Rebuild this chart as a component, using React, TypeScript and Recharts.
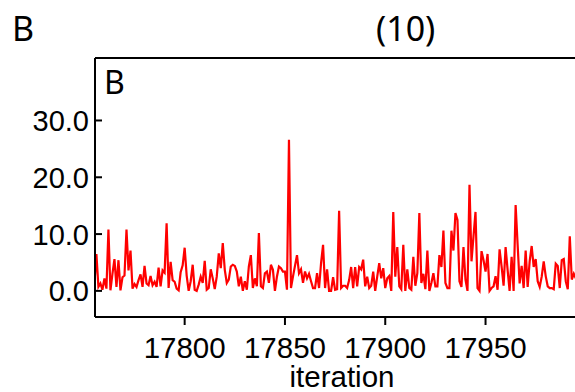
import React from "react";
import { LineChart, Line, XAxis, YAxis, ReferenceLine } from "recharts";

// first iteration shown at the left edge; one sample per iteration
const START_ITER = 17755;

const seg1 = [
  1.2, 6.5, 0.7, 1.3, 0.2, 2.2, 0.4, 10.8, 0.1, 3.0, 5.6, 0.7, 5.4, 0.1, 2.4, 2.7,
  10.8, 3.6, 7.1, 0.4, 1.2, 0.7, 1.9, 2.9, 0.7, 4.4, 1.3, 1.0, 2.6, 1.0, 1.6, 0.7,
  4.1, 0.8, 3.6, 3.2, 11.9, 0.5, 5.1, 1.9, 1.6, 0.4, 0.1, 3.3, 4.5, 7.6, 2.7, 0.0,
];
const seg2 = [
  1.7, 4.6, 0.2, 0.0, 1.1, 2.5, 1.4, 5.3, 0.2, 0.5, 3.8, 2.2, 0.3, 2.5, 6.6, 4.0,
  8.4, 3.7, 1.4, 2.0, 4.3, 4.6, 4.4, 3.4, 0.8, 2.5, 0.0, 1.7, 0.2, 4.3, 6.3, 0.5,
  2.2, 0.8, 10.2, 0.8, 0.5, 3.1, 3.4, 1.4, 4.6, 3.7, 0.0, 2.5, 4.3, 4.0, 3.4, 3.4,
];
const seg3 = [
  0.2, 26.6, 0.5, 2.5, 4.4, 6.3, 3.1, 3.8, 1.4, 3.4, 2.2, 3.0, 1.7, 0.5, 0.5, 3.1,
  0.5, 4.9, 8.1, 0.5, 3.8, 0.0, 0.0, 2.4, 0.2, 0.3, 14.1, 0.5, 0.9, 0.9, 0.5, 1.9,
  4.2, 0.5, 4.2, 0.8, 4.2, 3.8, 5.5, 0.8, 2.5, 0.5, 0.9, 3.4, 0.0, 2.5, 4.9, 2.2, 4.0,
];
const seg4 = [
  0.5, 2.2, 2.6, 0.0, 13.9, 2.5, 7.7, 0.8, 0.3, 8.1, 0.0, 3.8, 0.5, 0.2, 6.0, 0.9,
  3.1, 13.7, 1.4, 3.0, 0.3, 7.1, 0.0, 1.4, 3.1, 0.8, 0.8, 6.3, 4.2, 10.6, 1.4, 0.5,
  0.5, 10.6, 7.1, 13.7, 12.5, 1.7, 0.7, 7.7, 2.0, 0.0, 18.7, 5.2, 9.6, 13.9, 0.5,
];
const seg5 = [
  0.0, 7.0, 5.4, 3.4, 6.5, 0.0, 0.5, 0.8, 2.6, 0.2, 7.3, 4.3, 0.9, 7.7, 3.7, 0.0,
  6.0, 0.0, 15.1, 8.1, 1.3, 4.4, 0.5, 7.1, 0.7, 5.2, 7.9, 4.2, 5.6, 1.7, 0.7, 2.5,
  5.2, 2.6, 0.8, 0.5, 0.5, 0.3, 4.8, 4.4, 0.5, 5.4, 5.6, 1.7, 0.3, 9.6, 2.0, 3.0, 2.2,
];

const values = [...seg1, ...seg2, ...seg3, ...seg4, ...seg5];

const X_TICKS = [17800, 17850, 17900, 17950];
const Y_TICKS = [0, 10, 20, 30];
const X_DOMAIN = [17755.3, 17994.6];
const Y_DOMAIN = [-4.6, 41.0];

const data = values.map((v, i) => ({ iter: START_ITER + i, v }));

const TICK_FONT = "'Liberation Sans', Arial, sans-serif";
const TITLE_FONT = "'Noto Sans', 'Open Sans', sans-serif";

// y ticks point into the plot in the original
const YTick = (props: any) => {
  const { x, y, payload } = props;
  return (
    <g>
      <line x1={x + 6} x2={x + 13} y1={y} y2={y} stroke="#000" strokeWidth={2} />
      <text
        x={x}
        y={y}
        dy="0.36em"
        textAnchor="end"
        fontSize={29}
        fontFamily={TICK_FONT}
        fill="#000"
      >
        {Number(payload.value).toFixed(1)}
      </text>
    </g>
  );
};

export default function App() {
  return (
    <div style={{ position: "absolute", left: 0, top: 0, width: 575, height: 392, background: "#fff" }}>
      <LineChart
        width={575}
        height={392}
        data={data}
        margin={{ top: 58, right: 0, bottom: 0, left: 0 }}
      >
        <XAxis
          dataKey="iter"
          type="number"
          domain={X_DOMAIN}
          allowDataOverflow
          ticks={X_TICKS}
          height={75}
          tickSize={8}
          tickMargin={12}
          axisLine={{ stroke: "#000", strokeWidth: 2 }}
          tickLine={{ stroke: "#000", strokeWidth: 2 }}
          tick={{ fill: "#000", fontSize: 29.5, fontFamily: TICK_FONT }}
        />
        <YAxis
          type="number"
          domain={Y_DOMAIN}
          allowDataOverflow
          ticks={Y_TICKS}
          width={95}
          tickSize={0}
          tickMargin={6}
          tickLine={false}
          axisLine={{ stroke: "#000", strokeWidth: 2 }}
          tick={<YTick />}
        />
        <ReferenceLine y={Y_DOMAIN[1]} stroke="#000" strokeWidth={2} />
        <Line
          type="linear"
          dataKey="v"
          stroke="#ff0000"
          strokeWidth={2.2}
          dot={false}
          isAnimationActive={false}
        />
      </LineChart>
      <svg
        width={575}
        height={392}
        style={{ position: "absolute", left: 0, top: 0, pointerEvents: "none" }}
      >
        <text x={12} y={41} fontSize={34} fontFamily={TITLE_FONT} fill="#000">B</text>
        <text x={376} y={41} fontSize={34} fontFamily={TITLE_FONT} fill="#000">(10)</text>
        <text x={104} y={94} fontSize={32} fontFamily={TITLE_FONT} fill="#000">B</text>
        <text x={342} y={387} textAnchor="middle" fontSize={29.5} fontFamily={TICK_FONT} fill="#000">
          iteration
        </text>
      </svg>
    </div>
  );
}
